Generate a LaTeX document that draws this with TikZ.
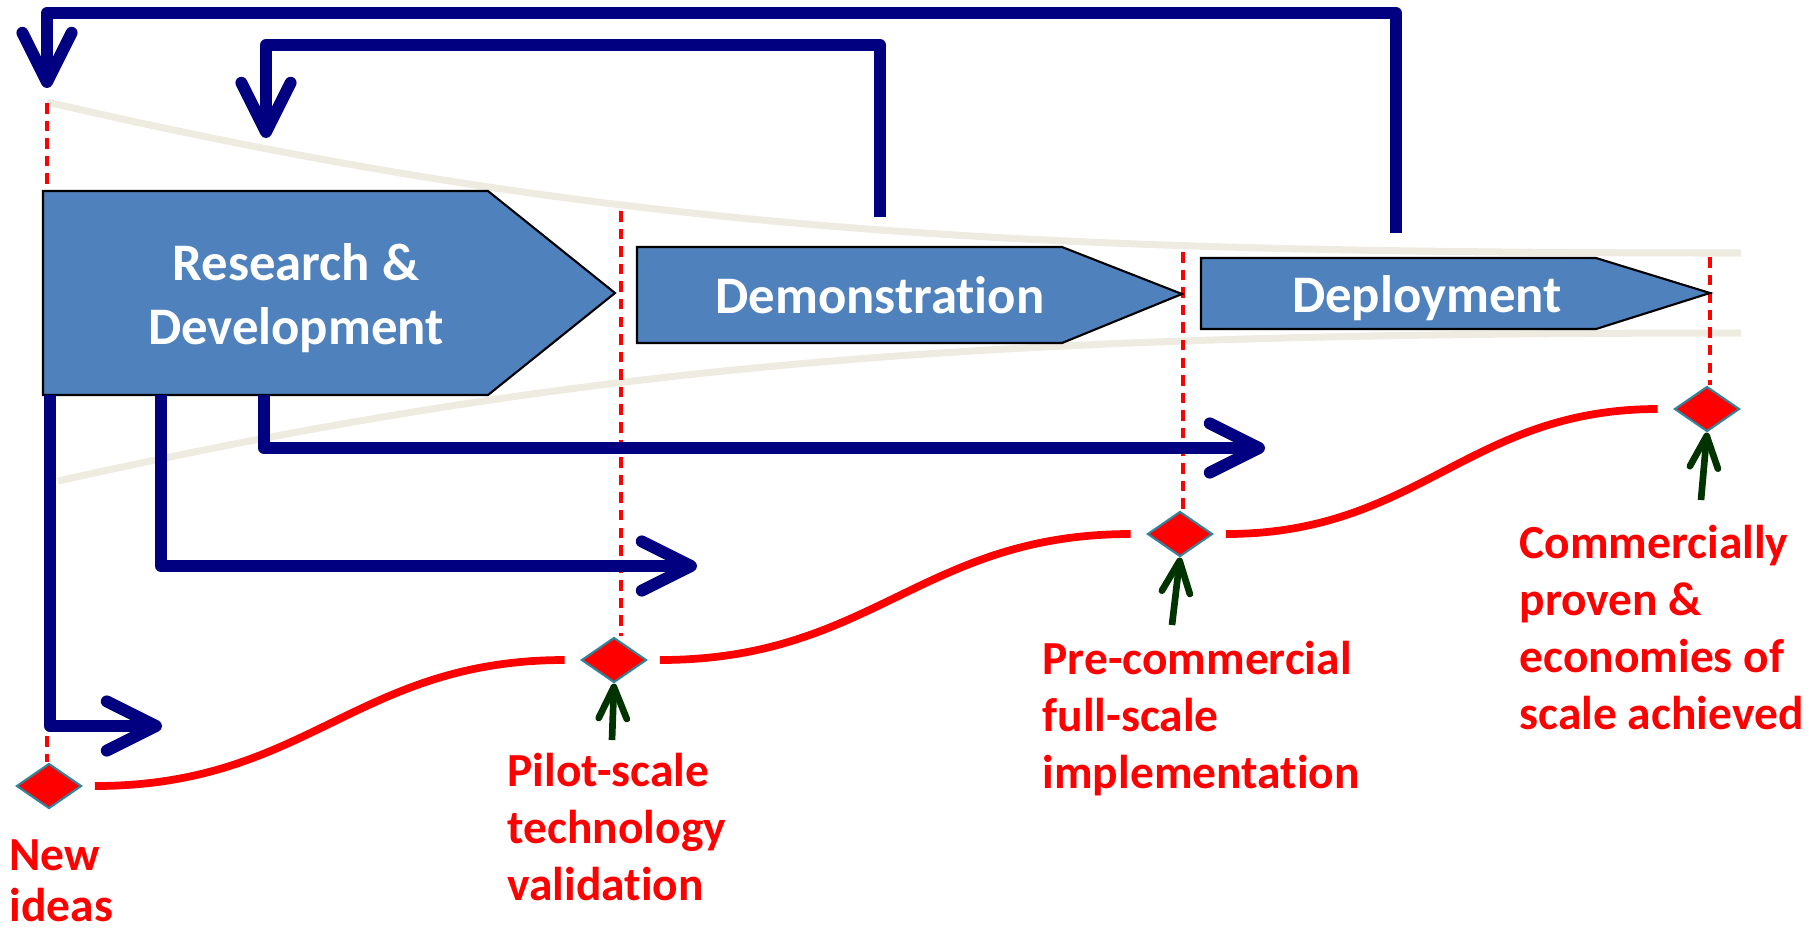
\documentclass[tikz,border=0pt]{standalone}
\usepackage{fontspec}
\setmainfont{Carlito}[Ligatures=NoCommon]
\usetikzlibrary{arrows.meta,shapes.geometric}
\definecolor{navyb}{RGB}{0,0,128}
\definecolor{boxblue}{RGB}{79,129,189}
\definecolor{beigeline}{RGB}{238,236,225}
\definecolor{dgreen}{RGB}{0,51,0}
\definecolor{dteal}{RGB}{49,133,155}
\begin{document}
\begin{tikzpicture}[x=0.01cm,y=-0.01cm,
  stage/.style={draw=black, line width=0.6pt, fill=boxblue, line join=miter},
  stagetext/.style={text=white, font=\bfseries\fontsize{15}{18.2}\selectfont, align=center, inner sep=0pt},
  milestone/.style={diamond, fill=red, draw=dteal, line width=0.6pt, minimum width=0.65cm, minimum height=0.45cm, inner sep=0pt},
  lbl/.style={text=red, font=\bfseries\fontsize{13.5}{16.3}\selectfont, align=left, anchor=north west, inner sep=0pt},
  envelope/.style={draw=beigeline, line width=2pt},
  guide/.style={draw=red, line width=0.9pt, dash pattern=on 3pt off 2pt},
  flow/.style={draw=navyb, line width=3.4pt, line join=round, -{Straight Barb[length=14pt,width=14pt,round]}},
  progress/.style={draw=red, line width=2.2pt, shorten <=3.5pt, shorten >=4.5pt},
  pointer/.style={draw=dgreen, line width=1.9pt, -{Straight Barb[length=9pt,width=8pt,round]}}
]
\useasboundingbox (0,0) rectangle (1820,932);

% envelope curves
\coordinate (ua) at (47,102); \coordinate (ub) at (1741,253);
\coordinate (la) at (58,481); \coordinate (lb) at (1741,333);
\draw[envelope] (ua) .. controls (600,230) and (1000,253) .. (ub);
\draw[envelope] (la) .. controls (600,360) and (1000,333) .. (lb);

% milestones
\node[milestone] (m1) at (49,786) {};
\node[milestone] (m2) at (614,660) {};
\node[milestone] (m3) at (1180,534) {};
\node[milestone] (m4) at (1707,409) {};

% dashed guides
\coordinate (g1) at (47,103);
\coordinate (g2) at (621,211);
\coordinate (g3) at (1183,252);
\coordinate (g4) at (1710,257);
\draw[guide] (g1) -- (g1 |- m1.north);
\draw[guide] (g2) -- (g2 |- m2.north);
\draw[guide] (g3) -- (g3 |- m3.north);
\draw[guide] (g4) -- (g4 |- m4.north);

% stages
\path[stage] (43,191) -- (488,191) -- (615,293) -- (488,395) -- (43,395) -- cycle;
\path[stage] (637,247) -- (1062,247) -- (1182,294) -- (1062,343) -- (637,343) -- cycle;
\path[stage] (1201,258) -- (1596,258) -- (1710,293) -- (1596,329) -- (1201,329) -- cycle;
\node[stagetext] (rdt) at (296,298) {Research \&\\Development};
\node[stagetext, anchor=base] (demt) at (880,313) {Demonstration};
\node[stagetext, anchor=base] (dept) at (1427,312) {Deployment};

% progress curve
\draw[progress] (m1.east) .. controls +(225,0) and +(-225,0) .. (m2.west);
\draw[progress] (m2.east) .. controls +(225,0) and +(-225,0) .. (m3.west);
\draw[progress] (m3.east) .. controls +(205,0) and +(-205,0) .. (m4.west);

% pointers
\coordinate (p2) at (612,740);
\coordinate (p3) at (1172,625);
\coordinate (p4) at (1701,500);
\draw[pointer] (p2) -- (m2.south);
\draw[pointer] (p3) -- (m3.south);
\draw[pointer] (p4) -- (m4.south);

% forward flows
\coordinate (a1s) at (50,395); \coordinate (a1e) at (162,726);
\coordinate (a2s) at (161,395); \coordinate (a2e) at (697,566);
\coordinate (a3s) at (264,395); \coordinate (a3e) at (1265,448);
\draw[flow] (a1s) |- (a1e);
\draw[flow] (a2s) |- (a2e);
\draw[flow] (a3s) |- (a3e);

% feedback flows
\coordinate (f1s) at (1396,233); \coordinate (f1top) at (0,13); \coordinate (f1e) at (47,88);
\coordinate (f2s) at (880,217); \coordinate (f2top) at (0,45); \coordinate (f2e) at (266,138);
\draw[flow] (f1s) -- (f1s |- f1top) -| (f1e);
\draw[flow] (f2s) -- (f2s |- f2top) -| (f2e);

% labels
\node[lbl, font=\bfseries\fontsize{13.5}{14.6}\selectfont] (l1) at (9,839) {New\\ideas};
\node[lbl] (l2) at (507,752) {Pilot-scale\\technology\\validation};
\node[lbl] (l3) at (1042,640) {Pre-commercial\\full-scale\\implementation};
\node[lbl] (l4) at (1519,524) {Commercially\\proven \&\\economies of\\scale achieved};
\end{tikzpicture}
\end{document}
